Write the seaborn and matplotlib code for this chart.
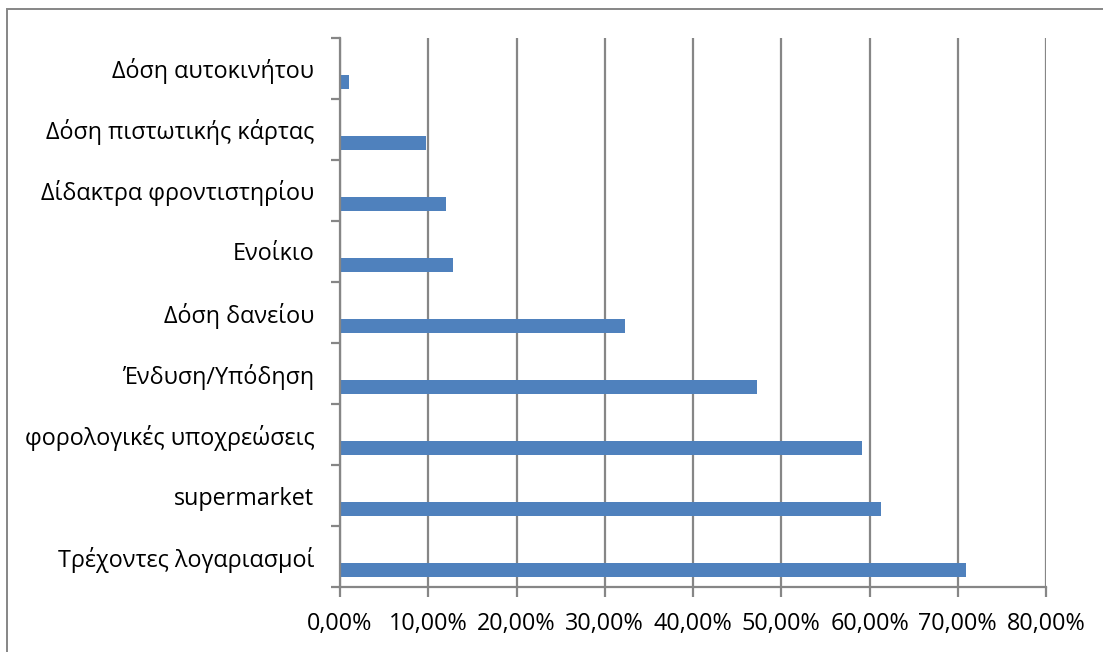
import seaborn as sns
import matplotlib.pyplot as plt
import matplotlib.patches as mpatches
from matplotlib.ticker import FuncFormatter, MultipleLocator, FixedLocator
import pandas as pd

# categories top to bottom, values in percent
categories = ['Δόση αυτοκινήτου', 'Δόση πιστωτικής κάρτας', 'Δίδακτρα φροντιστηρίου',
              'Ενοίκιο', 'Δόση δανείου', 'Ένδυση/Υπόδηση', 'φορολογικές υποχρεώσεις',
              'supermarket', 'Τρέχοντες λογαριασμοί']
values = [1.0, 9.7, 12.05, 12.85, 32.3, 47.3, 59.2, 61.3, 70.9]

df = pd.DataFrame({'cat': categories, 'val': values})

sns.set_style('white')
plt.rcParams['font.family'] = ['Open Sans', 'DejaVu Sans']

grey = '#868686'
fig = plt.figure(figsize=(11.03, 6.52), dpi=100)
ax = fig.add_axes([340 / 1103, 1 - 587.3 / 652, (1046 - 340) / 1103, (587.3 - 37.7) / 652])

sns.barplot(data=df, x='val', y='cat', orient='h', color='#4F81BD', width=0.225,
            saturation=1, edgecolor='none', ax=ax)

# bars sit in the lower part of each band (Excel clustered style)
off = 0.22
n = len(categories)
ax.set_ylim(n - 1 + 0.5 - off, -0.5 - off)
ax.set_xlim(0, 80)

ax.yaxis.set_major_locator(FixedLocator([i - off for i in range(n)]))
ax.set_yticklabels(categories)
ax.yaxis.set_minor_locator(FixedLocator([i - off - 0.5 for i in range(n + 1)]))
ax.tick_params(axis='y', which='major', length=0, pad=18.5, labelsize=16.8, labelcolor='black')
ax.tick_params(axis='y', which='minor', length=6.5, width=1.6, color=grey, left=True)

ax.xaxis.set_major_locator(MultipleLocator(10))
ax.xaxis.set_major_formatter(FuncFormatter(lambda v, p: f'{v:.2f}%'.replace('.', ',')))
ax.tick_params(axis='x', length=7, width=1.6, color=grey, bottom=True, pad=10.5,
               labelsize=16.8, labelcolor='black')

ax.grid(axis='x', color=grey, linewidth=1.6)
ax.set_axisbelow(True)
for s in ['top', 'right']:
    ax.spines[s].set_visible(False)
for s in ['left', 'bottom']:
    ax.spines[s].set_color(grey)
    ax.spines[s].set_linewidth(1.6)
ax.set_xlabel('')
ax.set_ylabel('')

# outer chart border
fig.patches.append(mpatches.Rectangle((7 / 1103, -0.1), 1.2, (652 - 9) / 652 + 0.1,
                                      transform=fig.transFigure, fill=False,
                                      edgecolor=grey, linewidth=1.4))

fig.savefig('out.png', dpi=100)
